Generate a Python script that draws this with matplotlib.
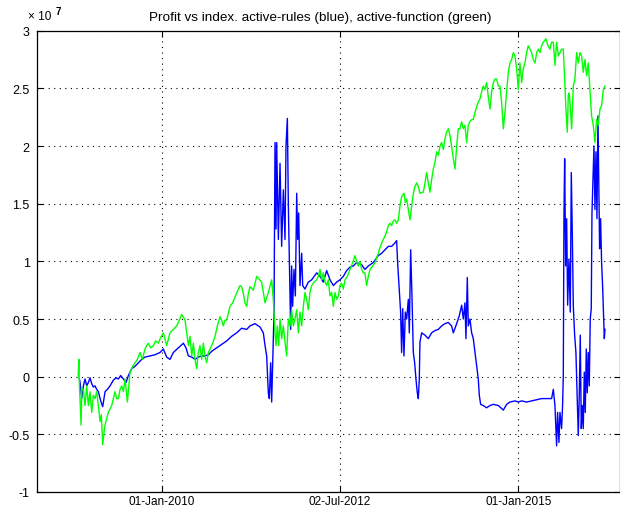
import numpy as np
import pandas as pd
import matplotlib
matplotlib.use("Agg")
import matplotlib.pyplot as plt
import matplotlib.dates as mdates
from matplotlib import font_manager

# profit curves (units of 1e7), time in decimal years
green_t = [
    2008.830, 2008.838, 2008.845, 2008.855, 2008.870, 2008.880, 2008.902, 2008.925, 2008.949, 2008.972,
    2008.995, 2009.019, 2009.042, 2009.065, 2009.089, 2009.112, 2009.136, 2009.154, 2009.173, 2009.192,
    2009.206, 2009.229, 2009.252, 2009.276, 2009.299, 2009.322, 2009.346, 2009.369, 2009.393, 2009.416,
    2009.439, 2009.463, 2009.486, 2009.519, 2009.556, 2009.593, 2009.626, 2009.659, 2009.696, 2009.729,
    2009.766, 2009.790, 2009.813, 2009.846, 2009.883, 2009.916, 2009.953, 2009.986, 2010.023, 2010.070,
    2010.117, 2010.164, 2010.210, 2010.248, 2010.280, 2010.327, 2010.350, 2010.374, 2010.397, 2010.421,
    2010.444, 2010.467, 2010.491, 2010.514, 2010.537, 2010.561, 2010.584, 2010.607, 2010.631, 2010.654,
    2010.678, 2010.715, 2010.748, 2010.780, 2010.818, 2010.841, 2010.864, 2010.888, 2010.911, 2010.935,
    2010.958, 2010.995, 2011.028, 2011.061, 2011.098, 2011.121, 2011.145, 2011.168, 2011.192, 2011.215,
    2011.238, 2011.285, 2011.332, 2011.402, 2011.449, 2011.495, 2011.542, 2011.565, 2011.589, 2011.603,
    2011.621, 2011.640, 2011.659, 2011.682, 2011.706, 2011.729, 2011.752, 2011.776, 2011.799, 2011.822,
    2011.846, 2011.869, 2011.893, 2011.916, 2011.939, 2011.963, 2011.986, 2012.009, 2012.033, 2012.056,
    2012.079, 2012.103, 2012.136, 2012.173, 2012.196, 2012.220, 2012.243, 2012.266, 2012.290, 2012.313,
    2012.336, 2012.360, 2012.383, 2012.407, 2012.430, 2012.453, 2012.477, 2012.500, 2012.523, 2012.547,
    2012.570, 2012.603, 2012.640, 2012.678, 2012.710, 2012.734, 2012.757, 2012.780, 2012.804, 2012.827,
    2012.850, 2012.874, 2012.897, 2012.921, 2012.958, 2012.991, 2013.014, 2013.037, 2013.061, 2013.084,
    2013.107, 2013.131, 2013.154, 2013.178, 2013.201, 2013.224, 2013.248, 2013.271, 2013.294, 2013.318,
    2013.341, 2013.364, 2013.397, 2013.416, 2013.435, 2013.458, 2013.481, 2013.505, 2013.528, 2013.551,
    2013.575, 2013.598, 2013.621, 2013.668, 2013.692, 2013.715, 2013.738, 2013.762, 2013.785, 2013.808,
    2013.832, 2013.855, 2013.879, 2013.902, 2013.925, 2013.949, 2013.972, 2013.995, 2014.019, 2014.042,
    2014.065, 2014.089, 2014.112, 2014.136, 2014.159, 2014.182, 2014.206, 2014.229, 2014.252, 2014.276,
    2014.299, 2014.322, 2014.346, 2014.369, 2014.406, 2014.439, 2014.463, 2014.486, 2014.509, 2014.533,
    2014.556, 2014.579, 2014.603, 2014.626, 2014.650, 2014.673, 2014.696, 2014.720, 2014.743, 2014.766,
    2014.790, 2014.813, 2014.836, 2014.860, 2014.883, 2014.907, 2014.930, 2014.953, 2014.977, 2015.000,
    2015.023, 2015.047, 2015.070, 2015.093, 2015.117, 2015.140, 2015.164, 2015.187, 2015.210, 2015.234,
    2015.257, 2015.280, 2015.304, 2015.327, 2015.350, 2015.388, 2015.416, 2015.444, 2015.467, 2015.491,
    2015.514, 2015.537, 2015.561, 2015.584, 2015.607, 2015.631, 2015.654, 2015.668, 2015.687, 2015.701,
    2015.715, 2015.734, 2015.748, 2015.771, 2015.794, 2015.818, 2015.841, 2015.864, 2015.888, 2015.911,
    2015.935, 2015.958, 2015.981, 2016.005, 2016.028, 2016.051, 2016.075, 2016.098, 2016.121, 2016.145,
    2016.168, 2016.192, 2016.215,
]
green_v = [
    0.00, 0.15, -0.05, -0.19, -0.42, -0.10, -0.11, -0.25, -0.08, -0.25,
    -0.13, -0.31, -0.16, -0.19, -0.13, -0.25, -0.39, -0.33, -0.59, -0.48,
    -0.42, -0.36, -0.31, -0.28, -0.25, -0.19, -0.13, -0.19, -0.19, -0.11,
    -0.08, -0.13, -0.02, -0.22, 0.04, 0.09, 0.12, 0.15, 0.21, 0.15,
    0.24, 0.27, 0.29, 0.25, 0.27, 0.31, 0.29, 0.34, 0.38, 0.27,
    0.38, 0.41, 0.44, 0.49, 0.54, 0.49, 0.38, 0.27, 0.35, 0.18,
    0.29, 0.15, 0.07, 0.21, 0.27, 0.15, 0.29, 0.18, 0.12, 0.21,
    0.24, 0.29, 0.35, 0.44, 0.52, 0.49, 0.44, 0.49, 0.49, 0.55,
    0.61, 0.64, 0.69, 0.74, 0.79, 0.78, 0.72, 0.64, 0.61, 0.72,
    0.78, 0.75, 0.87, 0.82, 0.64, 0.73, 0.84, 0.67, 0.38, 0.27,
    0.44, 0.27, 0.50, 0.33, 0.44, 0.30, 0.18, 0.50, 0.44, 0.58,
    0.44, 0.50, 0.58, 0.38, 0.56, 0.44, 0.61, 0.73, 0.67, 0.58,
    0.73, 0.79, 0.82, 0.84, 0.87, 0.93, 0.84, 0.90, 0.82, 0.79,
    0.84, 0.70, 0.73, 0.61, 0.73, 0.67, 0.70, 0.79, 0.81, 0.76,
    0.84, 0.87, 0.93, 0.99, 1.05, 1.00, 0.96, 1.00, 0.93, 0.90,
    0.90, 0.79, 0.87, 0.93, 0.96, 0.99, 1.03, 1.07, 1.12, 1.16,
    1.19, 1.22, 1.26, 1.31, 1.33, 1.31, 1.35, 1.36, 1.33, 1.36,
    1.48, 1.56, 1.59, 1.51, 1.54, 1.45, 1.36, 1.48, 1.59, 1.65,
    1.68, 1.65, 1.59, 1.60, 1.68, 1.77, 1.68, 1.60, 1.71, 1.80,
    1.86, 1.95, 1.92, 2.00, 2.03, 1.97, 2.06, 2.12, 2.15, 2.09,
    2.00, 1.89, 1.80, 2.00, 2.15, 2.15, 2.21, 2.15, 2.18, 2.03,
    2.18, 2.21, 2.23, 2.23, 2.32, 2.38, 2.41, 2.47, 2.52, 2.49,
    2.55, 2.43, 2.32, 2.47, 2.55, 2.58, 2.58, 2.52, 2.52, 2.38,
    2.15, 2.29, 2.47, 2.64, 2.72, 2.75, 2.81, 2.78, 2.67, 2.49,
    2.72, 2.55, 2.67, 2.72, 2.81, 2.87, 2.84, 2.81, 2.75, 2.72,
    2.81, 2.84, 2.81, 2.87, 2.90, 2.93, 2.87, 2.84, 2.90, 2.90,
    2.70, 2.90, 2.78, 2.81, 2.84, 2.84, 2.52, 2.32, 2.12, 2.44,
    2.46, 2.29, 2.15, 2.52, 2.58, 2.81, 2.72, 2.81, 2.78, 2.64,
    2.75, 2.61, 2.72, 2.49, 2.26, 2.18, 2.03, 2.23, 2.18, 2.32,
    2.35, 2.49, 2.52,
]

blue_t = [
    2008.846, 2008.855, 2008.879, 2008.902, 2008.925, 2008.949, 2008.972, 2008.995, 2009.019, 2009.042,
    2009.065, 2009.089, 2009.112, 2009.145, 2009.173, 2009.206, 2009.238, 2009.276, 2009.322, 2009.360,
    2009.393, 2009.425, 2009.463, 2009.500, 2009.533, 2009.579, 2009.626, 2009.673, 2009.720, 2009.766,
    2009.836, 2009.907, 2009.977, 2010.023, 2010.070, 2010.117, 2010.164, 2010.234, 2010.304, 2010.341,
    2010.374, 2010.421, 2010.467, 2010.514, 2010.561, 2010.607, 2010.654, 2010.701, 2010.771, 2010.841,
    2010.911, 2010.981, 2011.051, 2011.121, 2011.192, 2011.238, 2011.308, 2011.379, 2011.425, 2011.449,
    2011.472, 2011.495, 2011.509, 2011.528, 2011.542, 2011.556, 2011.575, 2011.589, 2011.603, 2011.612,
    2011.621, 2011.636, 2011.659, 2011.682, 2011.706, 2011.729, 2011.743, 2011.762, 2011.776, 2011.790,
    2011.808, 2011.822, 2011.836, 2011.855, 2011.874, 2011.893, 2011.907, 2011.921, 2011.939, 2011.963,
    2011.977, 2012.009, 2012.056, 2012.103, 2012.173, 2012.220, 2012.266, 2012.313, 2012.360, 2012.407,
    2012.453, 2012.500, 2012.547, 2012.593, 2012.640, 2012.687, 2012.734, 2012.804, 2012.850, 2012.897,
    2012.967, 2013.037, 2013.084, 2013.131, 2013.178, 2013.224, 2013.271, 2013.294, 2013.308, 2013.327,
    2013.350, 2013.364, 2013.379, 2013.397, 2013.416, 2013.435, 2013.458, 2013.472, 2013.491, 2013.509,
    2013.528, 2013.547, 2013.565, 2013.584, 2013.598, 2013.612, 2013.621, 2013.645, 2013.692, 2013.738,
    2013.785, 2013.832, 2013.879, 2013.925, 2013.972, 2014.019, 2014.065, 2014.089, 2014.136, 2014.173,
    2014.206, 2014.229, 2014.252, 2014.266, 2014.285, 2014.299, 2014.322, 2014.346, 2014.369, 2014.393,
    2014.416, 2014.439, 2014.453, 2014.472, 2014.509, 2014.556, 2014.603, 2014.650, 2014.720, 2014.790,
    2014.836, 2014.883, 2014.953, 2015.000, 2015.047, 2015.117, 2015.187, 2015.257, 2015.327, 2015.397,
    2015.467, 2015.491, 2015.514, 2015.537, 2015.551, 2015.570, 2015.584, 2015.607, 2015.621, 2015.631,
    2015.640, 2015.650, 2015.664, 2015.678, 2015.692, 2015.710, 2015.729, 2015.743, 2015.757, 2015.771,
    2015.790, 2015.808, 2015.827, 2015.841, 2015.855, 2015.869, 2015.883, 2015.897, 2015.911, 2015.925,
    2015.939, 2015.953, 2015.967, 2015.981, 2015.995, 2016.009, 2016.023, 2016.033, 2016.047, 2016.061,
    2016.075, 2016.089, 2016.103, 2016.117, 2016.126, 2016.140, 2016.154, 2016.168, 2016.182, 2016.196,
    2016.206, 2016.215,
]
blue_v = [
    -0.02, -0.05, -0.19, -0.08, -0.02, -0.08, -0.05, -0.01, -0.06, -0.09,
    -0.08, -0.11, -0.13, -0.21, -0.26, -0.13, -0.11, -0.08, -0.03, -0.01,
    -0.02, 0.01, -0.02, -0.05, 0.01, 0.07, 0.09, 0.12, 0.15, 0.17,
    0.18, 0.19, 0.21, 0.24, 0.17, 0.15, 0.21, 0.25, 0.29, 0.25,
    0.18, 0.17, 0.15, 0.17, 0.18, 0.18, 0.19, 0.22, 0.25, 0.28,
    0.31, 0.35, 0.38, 0.42, 0.41, 0.44, 0.46, 0.43, 0.38, 0.27,
    0.18, -0.14, -0.19, 0.12, -0.22, 0.10, 0.56, 2.03, 1.28, 2.03,
    1.71, 1.19, 1.85, 1.13, 1.62, 1.19, 2.00, 2.24, 1.48, 0.99,
    0.41, 0.96, 0.61, 0.93, 0.70, 1.59, 1.19, 1.42, 0.79, 1.07,
    0.79, 0.76, 0.82, 0.84, 0.90, 0.87, 0.82, 0.92, 0.84, 0.79,
    0.82, 0.84, 0.87, 0.92, 0.95, 0.96, 0.99, 0.97, 0.93, 0.96,
    0.99, 1.05, 1.07, 1.10, 1.13, 1.13, 1.16, 1.18, 0.99, 0.79,
    0.56, 0.21, 0.59, 0.18, 0.56, 0.50, 0.67, 0.38, 1.10, 0.70,
    0.21, 0.12, -0.02, -0.14, -0.19, -0.02, 0.30, 0.38, 0.36, 0.33,
    0.38, 0.40, 0.41, 0.44, 0.46, 0.47, 0.44, 0.38, 0.46, 0.53,
    0.62, 0.50, 0.64, 0.33, 0.86, 0.44, 0.50, 0.38, 0.33, 0.21,
    0.10, -0.02, -0.16, -0.24, -0.25, -0.27, -0.25, -0.24, -0.25, -0.29,
    -0.24, -0.22, -0.21, -0.22, -0.21, -0.22, -0.21, -0.20, -0.19, -0.19,
    -0.19, -0.11, -0.25, -0.60, -0.31, -0.57, -0.31, -0.45, -0.25, 0.01,
    1.37, 1.89, 0.96, 1.37, 0.62, 1.02, 0.56, 1.77, 1.25, 0.62,
    0.36, 0.21, -0.22, -0.51, -0.16, 0.36, -0.45, -0.25, -0.45, 0.04,
    -0.31, 0.24, -0.14, 0.21, -0.08, 0.50, 0.59, 1.42, 1.71, 2.00,
    1.45, 1.95, 1.37, 2.26, 1.80, 1.11, 1.37, 0.99, 0.79, 0.53,
    0.33, 0.41,
]

tick_dates = ["2010-01-01", "2012-07-02", "2015-01-01"]
title = "Profit vs index. active-rules (blue), active-function (green)"


def to_date(years):
    years = np.asarray(years, dtype=float)
    return pd.Timestamp("2010-01-01") + pd.to_timedelta((years - 2010.0) * 365.25, unit="D")


plt.rcParams["font.family"] = ["Liberation Sans", "DejaVu Sans"]
installed = {f.name for f in font_manager.fontManager.ttflist}
title_font = "Liberation Sans Narrow" if "Liberation Sans Narrow" in installed else "Liberation Sans"
title_size = 11 if title_font == "Liberation Sans Narrow" else 9.7

fig = plt.figure(figsize=(6.2, 5.1), dpi=100)
ax = fig.add_axes([36.7 / 620, 17 / 510, (620 - 36.7) / 620, (493 - 31.7) / 510])

ax.plot(to_date(blue_t), blue_v, color=(0, 0, 1), lw=1.0)
ax.plot(to_date(green_t), green_v, color=(0, 1, 0), lw=1.0)

ax.set_xlim(to_date([2008.2475, 2016.426]))
ax.set_ylim(-1, 3)
ax.set_yticks([-1, -0.5, 0, 0.5, 1, 1.5, 2, 2.5, 3])
ax.set_yticklabels(["-1", "-0.5", "0", "0.5", "1", "1.5", "2", "2.5", "3"])
ax.set_xticks(pd.to_datetime(tick_dates))
ax.xaxis.set_major_formatter(mdates.DateFormatter("%d-%b-%Y"))

ax.grid(True, color="black", linestyle=(0, (1, 4)), linewidth=0.8)
ax.tick_params(direction="in", length=4, width=0.8, top=True, right=True,
               labelsize=9, pad=5)
ax.tick_params(axis="x", labelsize=8.5, pad=2.2)
for s in ax.spines.values():
    s.set_linewidth(0.9)

fig.text(320 / 620, 1 - 21 / 510, title, ha="center", va="baseline",
         fontsize=title_size, family=title_font)
fig.text(28 / 620, 1 - 20 / 510, "× 10", ha="left", va="baseline", fontsize=8.5)
fig.text(56 / 620, 1 - 15 / 510, "7", ha="left", va="baseline", fontsize=7, fontweight="bold")

fig.savefig("out.png", dpi=100)
